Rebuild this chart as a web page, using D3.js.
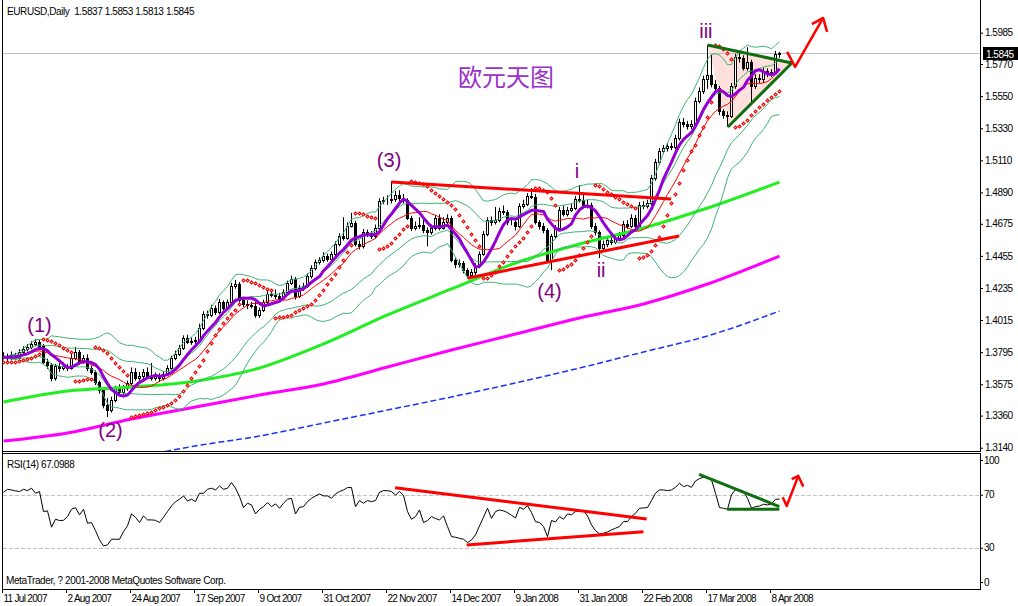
<!DOCTYPE html>
<html><head><meta charset="utf-8">
<script src="https://cdn.jsdelivr.net/npm/d3@7"></script>
<style>
html,body{margin:0;padding:0;background:#fff;}
svg{display:block;}
text{font-family:"Liberation Sans",Arial,sans-serif;}
</style></head><body>
<svg id="chart" width="1018" height="606"></svg>
<script>
// ---------------- DATA ----------------
const firstOpen = 1.3770;
const closes = [
1.3762,1.3755,1.3775,1.3755,1.3796,1.3817,1.3830,1.3851,1.3865,1.3837,
1.3728,1.3707,1.3618,1.3700,1.3686,1.3700,1.3686,1.3755,1.3796,1.3728,
1.3755,1.3686,1.3659,1.3590,1.3536,1.3433,1.3398,1.3467,1.3549,1.3522,
1.3549,1.3584,1.3659,1.3618,1.3632,1.3659,1.3632,1.3618,1.3632,1.3618,
1.3645,1.3686,1.3755,1.3782,1.3824,1.3892,1.3865,1.3871,1.3878,1.3961,
1.4057,1.4050,1.4098,1.4070,1.4139,1.4098,1.4139,1.4249,1.4262,1.4153,
1.4125,1.4120,1.4111,1.4050,1.4084,1.4139,1.4194,1.4187,1.4180,1.4166,
1.4207,1.4269,1.4297,1.4180,1.4235,1.4249,1.4317,1.4372,1.4413,1.4427,
1.4454,1.4434,1.4468,1.4536,1.4591,1.4578,1.4660,1.4680,1.4536,1.4523,
1.4619,1.4605,1.4591,1.4646,1.4831,1.4838,1.4835,1.4845,1.4872,1.4852,
1.4838,1.4715,1.4646,1.4660,1.4665,1.4632,1.4619,1.4646,1.4715,1.4646,
1.4687,1.4715,1.4427,1.4399,1.4406,1.4358,1.4324,1.4344,1.4386,1.4468,
1.4605,1.4701,1.4687,1.4701,1.4763,1.4756,1.4687,1.4690,1.4660,1.4797,
1.4811,1.4865,1.4860,1.4687,1.4660,1.4632,1.4427,1.4590,1.4646,1.4769,
1.4742,1.4769,1.4783,1.4845,1.4838,1.4797,1.4804,1.4660,1.4619,1.4509,
1.4536,1.4564,1.4550,1.4578,1.4598,1.4673,1.4660,1.4715,1.4660,1.4804,
1.4797,1.4817,1.4989,1.5099,1.5174,1.5194,1.5208,1.5201,1.5263,1.5373,
1.5359,1.5345,1.5359,1.5517,1.5585,1.5667,1.5695,1.5633,1.5606,1.5448,
1.5421,1.5414,1.5620,1.5818,1.5811,1.5743,1.5784,1.5620,1.5674,1.5667,
1.5722,1.5702,1.5715,1.5837,1.5845
];
const highs = [
1.3795,1.3785,1.3800,1.3790,1.3815,1.3835,1.3850,1.3870,1.3885,1.3880,
1.3850,1.3750,1.3720,1.3715,1.3720,1.3725,1.3715,1.3790,1.3830,1.3810,
1.3775,1.3780,1.3705,1.3670,1.3600,1.3550,1.3480,1.3490,1.3565,1.3575,
1.3570,1.3600,1.3690,1.3685,1.3660,1.3680,1.3690,1.3720,1.3655,1.3650,
1.3665,1.3705,1.3770,1.3805,1.3845,1.3910,1.3915,1.3895,1.3900,1.3990,
1.4075,1.4080,1.4120,1.4115,1.4160,1.4150,1.4155,1.4270,1.4290,1.4275,
1.4165,1.4150,1.4140,1.4140,1.4100,1.4155,1.4215,1.4215,1.4225,1.4200,
1.4225,1.4285,1.4320,1.4310,1.4255,1.4270,1.4335,1.4390,1.4430,1.4445,
1.4480,1.4470,1.4485,1.4555,1.4610,1.4720,1.4685,1.4750,1.4695,1.4560,
1.4640,1.4635,1.4625,1.4670,1.4850,1.4860,1.4870,1.4966,1.4900,1.4905,
1.4880,1.4850,1.4730,1.4690,1.4720,1.4710,1.4650,1.4670,1.4735,1.4740,
1.4720,1.4740,1.4730,1.4440,1.4430,1.4420,1.4370,1.4365,1.4405,1.4485,
1.4625,1.4720,1.4725,1.4790,1.4785,1.4800,1.4770,1.4710,1.4700,1.4815,
1.4840,1.4885,1.4920,1.4880,1.4700,1.4680,1.4645,1.4605,1.4665,1.4790,
1.4800,1.4790,1.4810,1.4865,1.4940,1.4880,1.4840,1.4820,1.4680,1.4630,
1.4560,1.4590,1.4585,1.4600,1.4620,1.4695,1.4700,1.4740,1.4735,1.4825,
1.4830,1.4840,1.5010,1.5120,1.5195,1.5215,1.5230,1.5230,1.5285,1.5395,
1.5400,1.5380,1.5385,1.5540,1.5610,1.5690,1.5900,1.5832,1.5660,1.5620,
1.5460,1.5445,1.5640,1.5840,1.5860,1.5830,1.5885,1.5800,1.5700,1.5700,
1.5745,1.5740,1.5735,1.5860,1.5853
];
const lows = [
1.3745,1.3735,1.3740,1.3745,1.3745,1.3780,1.3800,1.3815,1.3835,1.3820,
1.3715,1.3680,1.3595,1.3600,1.3660,1.3670,1.3665,1.3675,1.3740,1.3710,
1.3715,1.3665,1.3640,1.3570,1.3510,1.3410,1.3350,1.3380,1.3450,1.3505,
1.3500,1.3530,1.3570,1.3600,1.3600,1.3610,1.3615,1.3600,1.3600,1.3590,
1.3600,1.3630,1.3675,1.3740,1.3770,1.3810,1.3850,1.3845,1.3850,1.3860,
1.3945,1.4025,1.4035,1.4050,1.4055,1.4080,1.4085,1.4125,1.4230,1.4135,
1.4105,1.4090,1.4095,1.4030,1.4030,1.4070,1.4125,1.4170,1.4160,1.4140,
1.4150,1.4190,1.4255,1.4155,1.4165,1.4215,1.4235,1.4300,1.4355,1.4395,
1.4410,1.4415,1.4420,1.4450,1.4520,1.4560,1.4565,1.4650,1.4520,1.4500,
1.4505,1.4585,1.4570,1.4575,1.4630,1.4810,1.4805,1.4815,1.4825,1.4830,
1.4815,1.4700,1.4625,1.4630,1.4640,1.4610,1.4520,1.4600,1.4630,1.4630,
1.4635,1.4670,1.4410,1.4370,1.4375,1.4335,1.4300,1.4310,1.4325,1.4370,
1.4455,1.4590,1.4660,1.4670,1.4685,1.4735,1.4665,1.4665,1.4630,1.4645,
1.4780,1.4795,1.4845,1.4670,1.4635,1.4610,1.4410,1.4358,1.4570,1.4630,
1.4725,1.4725,1.4755,1.4770,1.4820,1.4780,1.4780,1.4640,1.4595,1.4440,
1.4490,1.4515,1.4530,1.4535,1.4560,1.4580,1.4640,1.4645,1.4640,1.4650,
1.4775,1.4780,1.4800,1.4970,1.5080,1.5155,1.5170,1.5180,1.5185,1.5245,
1.5335,1.5320,1.5325,1.5340,1.5500,1.5565,1.5600,1.5610,1.5580,1.5420,
1.5395,1.5338,1.5400,1.5600,1.5780,1.5725,1.5725,1.5510,1.5600,1.5640,
1.5640,1.5680,1.5680,1.5700,1.5813
];
const rsiValues = [
72.3,74.5,74.0,73.3,72.8,74.5,73.5,75.3,71.5,72.8,
57.7,58.2,45.9,51.9,50.9,51.1,53.9,59.4,60.7,55.2,
59.4,48.9,49.4,43.3,36.3,31.8,32.5,36.8,36.8,36.8,
42.6,46.9,55.9,53.4,49.4,54.4,51.4,51.4,51.1,49.4,
53.4,57.7,61.9,65.2,67.0,69.5,65.7,67.0,65.2,71.5,
71.5,74.5,75.3,74.0,77.0,74.5,75.3,79.6,75.3,69.0,
60.7,64.0,62.7,55.9,59.4,61.4,64.5,61.4,63.5,60.2,
64.0,67.0,67.7,55.9,60.9,61.4,65.2,67.7,69.5,71.0,
69.5,69.5,67.7,71.0,72.8,74.0,75.8,75.8,61.4,66.0,
64.0,66.0,65.2,66.0,72.3,73.5,73.5,72.8,70.2,72.8,
70.0,57.7,51.9,53.9,58.9,49.4,50.9,53.9,52.4,51.4,
54.4,46.4,38.8,38.3,37.5,36.8,34.3,36.3,40.1,46.9,
53.4,60.2,52.6,57.7,58.9,58.2,56.9,54.9,52.9,60.9,
59.4,62.2,56.9,50.1,49.4,46.4,38.8,50.9,49.9,53.9,
51.9,55.9,55.2,57.7,58.4,58.4,54.4,47.6,43.3,40.8,
41.3,42.3,43.8,45.1,46.4,50.1,50.1,53.9,56.4,60.2,
60.4,60.7,66.0,71.5,74.0,74.0,73.5,74.0,76.0,79.1,
76.5,77.5,76.0,80.8,82.6,83.6,83.1,81.6,71.5,60.7,
60.2,59.4,70.3,74.3,74.0,72.8,67.7,60.2,61.4,61.9,
63.2,62.7,63.5,67.0,67.0988
];
// long moving averages (at bar indices)
const maBars     = [0,16,32,48,64,80,96,112,128,144,160,176,194];
const limeVals   = [1.3453,1.3529,1.3556,1.3596,1.3686,1.3851,1.4050,1.4228,1.4406,1.4536,1.4646,1.4783,1.4961];
const magentaVals= [1.3186,1.3241,1.3337,1.3419,1.3501,1.3577,1.3693,1.3810,1.3919,1.4029,1.4125,1.4262,1.4454];
const blueBars   = [36,48,64,80,96,112,128,144,160,176,194];
const blueVals   = [1.3090,1.3152,1.3220,1.3309,1.3398,1.3488,1.3584,1.3686,1.3796,1.3906,1.4077];
// axes
const dateBars   = [0,16,32,48,64,80,96,112,128,144,160,176,192];
const dateLabels = ["11 Jul 2007","2 Aug 2007","24 Aug 2007","17 Sep 2007","9 Oct 2007","31 Oct 2007","22 Nov 2007","14 Dec 2007","9 Jan 2008","31 Jan 2008","22 Feb 2008","17 Mar 2008","8 Apr 2008"];
const priceTicks = [1.5985,1.5770,1.5550,1.5330,1.5110,1.4890,1.4675,1.4455,1.4235,1.4015,1.3795,1.3575,1.3360,1.3140];
const rsiTicks   = [100,70,30,0];
const rsiLevels  = [70,30];
const lastPrice  = 1.5845;
const titleText  = "EURUSD,Daily  1.5837 1.5853 1.5813 1.5845";
const rsiTitle   = "RSI(14) 67.0988";
const copyright  = "MetaTrader, ? 2001-2008 MetaQuotes Software Corp.";
// annotations (bar index, price / rsi value)
const waveLabels = [
  {t:"(1)", bar:9,     v:1.3936},
  {t:"(2)", bar:26.75, v:1.3216},
  {t:"(3)", bar:96.4,  v:1.5064},
  {t:"(4)", bar:136.5, v:1.4166},
  {t:"i",   bar:143.4, v:1.4989},
  {t:"ii",  bar:149.4, v:1.4310},
  {t:"iii", bar:175.6, v:1.5949}
];
const cnLabel = {t:"欧元天图", bar:113.6, v:1.5619};
const priceRedLines = [
  [[97,1.4961],[166.9,1.4845]],
  [[116.1,1.4303],[168.9,1.4591]]
];
const triangle = [[176,1.5901],[197.1,1.5777],[181.1,1.5338]];
const priceArrow = [[195.9,1.5853],[197.9,1.5750],[204.9,1.6086]];
const priceArrowHead = [[202.1,1.6044],[204.9,1.6086],[205.9,1.5990]];
const rsiRedLines = [
  [[97.9,75.7],[160.8,52.1]],
  [[115.8,32.5],[160.0,42.5]]
];
const rsiGreenLines = [
  [[173.9,85.8],[193.95,61.4]],
  [[180.9,59.4],[193.95,59.4]]
];
const rsiArrow = [[194.8,68.5],[195.8,61.9],[198.7,84.6]];
const rsiArrowHead = [[197.05,82.1],[198.7,84.6],[199.95,76.5]];

// ---------------- CHART ----------------
const svg = d3.select("#chart");
svg.append("rect").attr("width",1018).attr("height",606).attr("fill","#fff");

const opens = closes.map((c,i)=> i===0 ? firstOpen : closes[i-1]);
const x  = d3.scaleLinear().domain([0,1]).range([3.5,7.5]);
const yP = d3.scaleLinear().domain([1.31105,1.6209]).range([452,0]);
const yR = d3.scaleLinear().domain([0,100]).range([588,455.5]);

const defs = svg.append("defs");
defs.append("clipPath").attr("id","clipMain").append("rect").attr("x",3).attr("y",0).attr("width",977).attr("height",451);
defs.append("clipPath").attr("id","clipRsi").append("rect").attr("x",3).attr("y",454).attr("width",977).attr("height",135);

const main = svg.append("g").attr("clip-path","url(#clipMain)");
const sub  = svg.append("g").attr("clip-path","url(#clipRsi)");

// indicators computed from closes
const sma = (arr,p)=>arr.map((_,i)=>d3.mean(arr.slice(Math.max(0,i-p+1),i+1)));
const band = (arr,p,k)=>arr.map((_,i)=>{
  const s=arr.slice(Math.max(0,i-p+1),i+1); const m=d3.mean(s);
  const sd=Math.sqrt(d3.mean(s,v=>(v-m)*(v-m))); return m+k*sd;});
function psar(h,l,step,maxAf){
  const out=[]; let up=true, af=step, ep=h[0], sar=l[0]-0.002; out.push(sar);
  for(let i=1;i<h.length;i++){
    sar = sar + af*(ep-sar);
    if(up){
      sar = Math.min(sar, l[i-1], i>1?l[i-2]:l[i-1]);
      if(l[i]<sar){ up=false; sar=ep; ep=l[i]; af=step; }
      else if(h[i]>ep){ ep=h[i]; af=Math.min(af+step,maxAf); }
    } else {
      sar = Math.max(sar, h[i-1], i>1?h[i-2]:h[i-1]);
      if(h[i]>sar){ up=true; sar=ep; ep=h[i]; af=step; }
      else if(l[i]<ep){ ep=l[i]; af=Math.min(af+step,maxAf); }
    }
    out.push(sar);
  }
  return out;
}

const lineIdx = d3.line().x((d,i)=>x(i)).y(d=>yP(d));
const lineMA  = d3.line().x(d=>x(d[0])).y(d=>yP(d[1])).curve(d3.curveMonotoneX);
const lineP   = d3.line().x(d=>x(d[0])).y(d=>yP(d[1]));
const lineR   = d3.line().x(d=>x(d[0])).y(d=>yR(d[1]));

// triangle fill (background object)
main.append("path").attr("d", lineP(triangle)+"Z").attr("fill","#ffe0dc").attr("stroke","none");

// bid line
const yLast = Math.round(yP(lastPrice))+0.5;
main.append("line").attr("x1",3).attr("x2",980).attr("y1",yLast).attr("y2",yLast).attr("stroke","#c0c0c0");

// candles
const cg = main.append("g");
const bars = closes.map((c,i)=>({i,o:opens[i],h:highs[i],l:lows[i],c}));
cg.selectAll("line.wick").data(bars).join("line").attr("class","wick")
  .attr("x1",d=>x(d.i)).attr("x2",d=>x(d.i)).attr("y1",d=>yP(d.h)).attr("y2",d=>yP(d.l))
  .attr("stroke","#000").attr("stroke-width",1);
cg.selectAll("rect.body").data(bars).join("rect").attr("class","body")
  .attr("x",d=>x(d.i)-1)
  .attr("y",d=>Math.round(yP(Math.max(d.o,d.c)))+0.5)
  .attr("width",2)
  .attr("height",d=>Math.max(0,Math.round(yP(Math.min(d.o,d.c)))-Math.round(yP(Math.max(d.o,d.c)))))
  .attr("fill",d=>d.c>d.o?"#fff":"#000").attr("stroke","#000").attr("stroke-width",1);

// long MAs
main.append("path").attr("d", lineMA(blueBars.map((b,k)=>[b,blueVals[k]])))
  .attr("fill","none").attr("stroke","#1830ff").attr("stroke-width",1.5).attr("stroke-dasharray","6,3");
main.append("path").attr("d", lineMA(maBars.map((b,k)=>[b,magentaVals[k]])))
  .attr("fill","none").attr("stroke","#ff00ff").attr("stroke-width",3);
main.append("path").attr("d", lineMA(maBars.map((b,k)=>[b,limeVals[k]])))
  .attr("fill","none").attr("stroke","#22ee22").attr("stroke-width",3);

// Bollinger bands
[[20,2],[20,-2],[20,1],[20,-1]].forEach(([p,k])=>{
  main.append("path").attr("d", lineIdx(band(closes,p,k)))
    .attr("fill","none").attr("stroke","#3cb371").attr("stroke-width",1);
});
// red thin MA and purple MA
main.append("path").attr("d", lineIdx(sma(closes,13))).attr("fill","none").attr("stroke","#ff0000").attr("stroke-width",1);
main.append("path").attr("d", lineIdx(sma(closes,7))).attr("fill","none").attr("stroke","#9400d3").attr("stroke-width",3).attr("stroke-linejoin","round");

// parabolic SAR (small hollow red diamonds)
const sarVals = psar(highs,lows,0.02,0.2);
main.selectAll("path.sar").data(sarVals).join("path").attr("class","sar")
  .attr("d",(d,i)=>{const cx=x(i), cy=Math.round(yP(d))+0.5; return `M${cx},${cy-1.5}L${cx+1.5},${cy}L${cx},${cy+1.5}L${cx-1.5},${cy}Z`;})
  .attr("fill","#fff").attr("stroke","#ff0000").attr("stroke-width",1.1);

// trend lines
priceRedLines.forEach(l=>main.append("path").attr("d",lineP(l)).attr("stroke","#ff0000").attr("stroke-width",3).attr("fill","none"));
main.append("path").attr("d",lineP([triangle[0],triangle[1]])).attr("stroke","#0f6e0f").attr("stroke-width",3).attr("fill","none");
main.append("path").attr("d",lineP([triangle[2],triangle[1]])).attr("stroke","#0f6e0f").attr("stroke-width",3).attr("fill","none");
main.append("path").attr("d",lineP(priceArrow)).attr("stroke","#ff0000").attr("stroke-width",2.5).attr("fill","none").attr("stroke-linejoin","round");
main.append("path").attr("d",lineP(priceArrowHead)).attr("stroke","#ff0000").attr("stroke-width",2.5).attr("fill","none").attr("stroke-linejoin","round");

// wave labels
main.selectAll("text.wave").data(waveLabels).join("text").attr("class","wave")
  .attr("x",d=>x(d.bar)).attr("y",d=>yP(d.v)).attr("text-anchor","middle")
  .attr("font-size",20).attr("fill","#800080").text(d=>d.t);
main.append("text").attr("x",x(cnLabel.bar)).attr("y",yP(cnLabel.v))
  .attr("font-size",24).attr("fill","#9932cc")
  .style("font-family",'"Noto Sans CJK SC","Noto Sans CJK JP",sans-serif').text(cnLabel.t);

// title
svg.append("text").attr("x",7).attr("y",14.5).attr("font-size",10).style("letter-spacing","-0.4px")
  .style("white-space","pre").attr("fill","#000").text(titleText);

// ---------------- RSI panel ----------------
rsiLevels.forEach(v=>{
  const yy=Math.round(yR(v))+0.5;
  sub.append("line").attr("x1",3).attr("x2",980).attr("y1",yy).attr("y2",yy)
    .attr("stroke","#c0c0c0").attr("stroke-dasharray","4,2");
});
sub.append("path").attr("d", d3.line().x((d,i)=>x(i)).y(d=>yR(d))(rsiValues))
  .attr("fill","none").attr("stroke","#000").attr("stroke-width",1);
rsiRedLines.forEach(l=>sub.append("path").attr("d",lineR(l)).attr("stroke","#ff0000").attr("stroke-width",3).attr("fill","none"));
rsiGreenLines.forEach(l=>sub.append("path").attr("d",lineR(l)).attr("stroke","#0f6e0f").attr("stroke-width",3).attr("fill","none"));
sub.append("path").attr("d",lineR(rsiArrow)).attr("stroke","#ff0000").attr("stroke-width",2.5).attr("fill","none").attr("stroke-linejoin","round");
sub.append("path").attr("d",lineR(rsiArrowHead)).attr("stroke","#ff0000").attr("stroke-width",2.5).attr("fill","none").attr("stroke-linejoin","round");
svg.append("text").attr("x",7).attr("y",467.5).attr("font-size",10).style("letter-spacing","-0.4px").text(rsiTitle);
svg.append("text").attr("x",6).attr("y",583.5).attr("font-size",10).style("letter-spacing","-0.4px").text(copyright);

// ---------------- frame ----------------
const frame = svg.append("g").attr("stroke","#000").attr("stroke-width",1);
frame.append("line").attr("x1",2.5).attr("x2",2.5).attr("y1",0).attr("y2",590);
frame.append("line").attr("x1",2).attr("x2",981).attr("y1",451.5).attr("y2",451.5);
frame.append("line").attr("x1",2).attr("x2",981).attr("y1",453.5).attr("y2",453.5);
frame.append("line").attr("x1",2).attr("x2",981).attr("y1",589.5).attr("y2",589.5);
frame.append("line").attr("x1",980.5).attr("x2",980.5).attr("y1",0).attr("y2",451.5);
frame.append("line").attr("x1",980.5).attr("x2",980.5).attr("y1",453.5).attr("y2",589.5);

// price axis
const pa = svg.append("g").attr("transform","translate(980,0)")
  .call(d3.axisRight(yP).tickValues(priceTicks).tickFormat(d3.format(".4f")).tickSize(3).tickPadding(3));
pa.select(".domain").remove();
pa.selectAll("text").attr("x",5).attr("font-size",10).style("font-family",'"Liberation Sans",Arial,sans-serif').style("letter-spacing","-0.5px").attr("fill","#000");

// last price marker
svg.append("rect").attr("x",983).attr("y",yLast-6.5).attr("width",35).attr("height",13).attr("fill","#000");
svg.append("text").attr("x",986).attr("y",yLast+4).attr("font-size",10).style("letter-spacing","-0.5px").attr("fill","#fff").text(d3.format(".4f")(lastPrice));

// rsi axis
const ra = svg.append("g").attr("transform","translate(980,0)")
  .call(d3.axisRight(yR).tickValues(rsiTicks).tickSize(3).tickPadding(3));
ra.select(".domain").remove();
ra.selectAll(".tick").attr("transform",d=>`translate(0,${Math.max(460.5,Math.min(582.5,yR(d)))})`);
ra.selectAll("text").attr("x",4).attr("font-size",10).style("font-family",'"Liberation Sans",Arial,sans-serif').style("letter-spacing","-0.5px").attr("fill","#000");

// date axis
const xTick = d3.scaleLinear().domain([0,1]).range([2,6]);
const da = svg.append("g").attr("transform","translate(0,589)")
  .call(d3.axisBottom(xTick).tickValues(dateBars).tickFormat((d,i)=>dateLabels[i]).tickSize(4));
da.select(".domain").remove();
da.selectAll("text").attr("text-anchor","start").attr("x",1).attr("y",5.5)
  .attr("font-size",10).style("font-family",'"Liberation Sans",Arial,sans-serif').style("letter-spacing","-0.7px").attr("fill","#000");
</script>
</body></html>
